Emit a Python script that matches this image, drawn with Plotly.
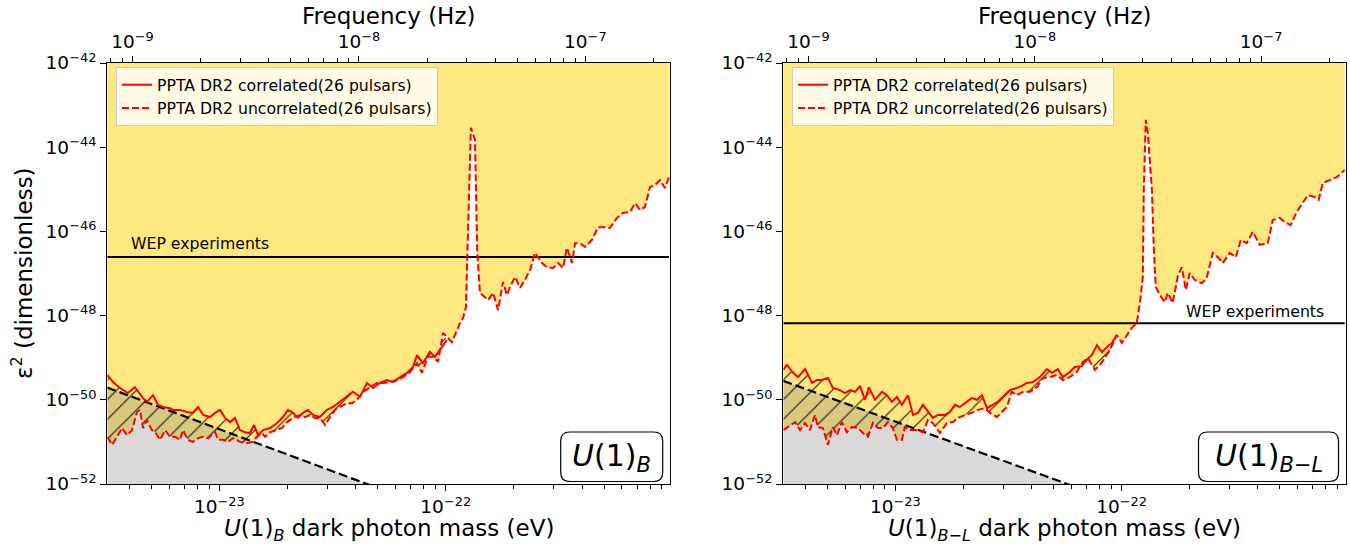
import numpy as np
import plotly.graph_objects as go

W, H = 1350, 546
HZ_PER_EV = 2.418e14  # frequency (Hz) per eV of mass

# ---------------- Left panel: U(1)_B ----------------
# correlated search (solid), low-mass part only
b_corr_logm = [-23.495, -23.470, -23.439, -23.404, -23.373, -23.342, -23.320, -23.293, -23.271, -23.249,
               -23.218, -23.205, -23.174, -23.143, -23.117, -23.094, -23.072, -23.041, -23.019, -22.997,
               -22.975, -22.953, -22.931, -22.909, -22.887, -22.865, -22.847, -22.829, -22.807, -22.776,
               -22.745, -22.719, -22.697, -22.675, -22.653, -22.631, -22.609, -22.586, -22.556, -22.525,
               -22.498, -22.467, -22.436, -22.410, -22.379, -22.348, -22.321, -22.291, -22.260, -22.233,
               -22.202, -22.171, -22.145, -22.127, -22.101, -22.070, -22.048, -22.026, -21.995]
b_corr_logeps = [-49.41, -49.58, -49.72, -49.84, -49.70, -49.93, -50.05, -49.89, -50.12, -50.17,
                 -50.20, -50.24, -50.24, -50.29, -50.31, -50.17, -50.36, -50.41, -50.31, -50.24,
                 -50.43, -50.53, -50.43, -50.72, -50.77, -50.79, -50.60, -50.84, -50.72, -50.67,
                 -50.55, -50.41, -50.24, -50.31, -50.43, -50.31, -50.24, -50.36, -50.41, -50.24,
                 -50.17, -50.05, -49.93, -49.81, -49.93, -49.60, -49.72, -49.60, -49.53, -49.58,
                 -49.46, -49.36, -49.22, -48.94, -49.13, -48.86, -48.98, -48.82, -48.58]
# uncorrelated search (dashed), low-mass part
b_unc_logm = [-23.495, -23.474, -23.452, -23.430, -23.408, -23.386, -23.364, -23.351, -23.337, -23.320,
              -23.298, -23.284, -23.262, -23.240, -23.218, -23.196, -23.174, -23.161, -23.139, -23.117,
              -23.094, -23.072, -23.050, -23.019, -23.006, -22.984, -22.962, -22.940, -22.909, -22.878,
              -22.856, -22.834, -22.812, -22.798, -22.776, -22.745, -22.723, -22.701, -22.675, -22.644,
              -22.622, -22.600, -22.578, -22.556, -22.533, -22.511, -22.489, -22.467, -22.436, -22.414,
              -22.392, -22.366, -22.335, -22.304, -22.277, -22.246, -22.215, -22.189, -22.158, -22.127,
              -22.105, -22.079, -22.056, -22.034, -22.012, -21.973, -21.937, -21.924, -21.911]
b_unc_logeps = [-50.88, -51.07, -50.88, -50.67, -50.84, -50.72, -50.29, -50.24, -50.67, -50.48,
                -50.72, -50.77, -50.95, -50.72, -50.88, -50.88, -50.95, -50.72, -50.95, -51.00,
                -50.91, -50.88, -50.91, -50.77, -50.95, -50.95, -51.00, -50.91, -51.00, -51.03,
                -51.00, -50.88, -50.79, -50.88, -50.77, -50.72, -50.67, -50.53, -50.43, -50.36,
                -50.41, -50.36, -50.43, -50.43, -50.60, -50.41, -50.24, -50.17, -50.08, -50.08,
                -50.00, -49.81, -49.70, -49.60, -49.60, -49.58, -49.53, -49.46, -49.34, -49.13,
                -49.36, -48.98, -48.98, -49.10, -48.41, -48.63, -48.18, -48.06, -47.80]
# uncorrelated search (dashed), high-mass part with the resonance spike
b_tail_logm = [-21.906, -21.897, -21.889, -21.871, -21.861, -21.849, -21.813, -21.791, -21.769, -21.747,
               -21.730, -21.716, -21.694, -21.672, -21.650, -21.628, -21.606, -21.575, -21.553, -21.526,
               -21.504, -21.482, -21.465, -21.442, -21.429, -21.407, -21.385, -21.354, -21.328, -21.297,
               -21.275, -21.244, -21.217, -21.186, -21.164, -21.142, -21.120, -21.098, -21.076, -21.054,
               -21.032, -21.014]
b_tail_logeps = [-46.68, -45.25, -43.54, -43.83, -46.51, -47.46, -47.63, -47.46, -47.87, -47.20,
                 -47.51, -47.32, -47.08, -47.34, -47.15, -46.92, -46.51, -46.75, -46.85, -46.87,
                 -46.75, -46.87, -46.39, -46.75, -46.28, -46.28, -46.37, -46.20, -45.90, -45.90,
                 -45.92, -45.68, -45.56, -45.54, -45.33, -45.49, -45.42, -44.95, -44.90, -44.78,
                 -44.97, -44.71]
b_wep = 2.45e-47
b_bound_logm = [-23.495, -22.098]
b_bound_logeps = [-49.71, -52.5]

# ---------------- Right panel: U(1)_{B-L} ----------------
bl_corr_logm = [-23.495, -23.479, -23.452, -23.430, -23.399, -23.368, -23.346, -23.324, -23.298, -23.276,
                -23.245, -23.223, -23.200, -23.178, -23.156, -23.134, -23.117, -23.090, -23.059, -23.037,
                -23.015, -22.993, -22.971, -22.944, -22.922, -22.900, -22.878, -22.856, -22.834, -22.812,
                -22.781, -22.759, -22.737, -22.715, -22.692, -22.662, -22.639, -22.617, -22.595, -22.569,
                -22.547, -22.525, -22.494, -22.463, -22.441, -22.419, -22.392, -22.361, -22.330, -22.308,
                -22.282, -22.260, -22.229, -22.207, -22.176, -22.154, -22.132, -22.109, -22.087, -22.065,
                -22.043, -22.021]
bl_corr_logeps = [-49.29, -49.17, -49.36, -49.46, -49.27, -49.60, -49.53, -49.53, -49.48, -49.72,
                  -49.77, -49.84, -49.77, -49.81, -49.67, -50.00, -49.70, -50.00, -49.81, -49.89,
                  -50.05, -49.93, -50.12, -49.89, -50.36, -50.31, -50.12, -50.29, -50.43, -50.36,
                  -50.36, -50.29, -50.12, -50.17, -50.08, -49.96, -50.00, -49.89, -50.20, -50.12,
                  -50.05, -49.93, -49.77, -49.72, -49.67, -49.60, -49.58, -49.46, -49.27, -49.36,
                  -49.27, -49.46, -49.34, -49.22, -49.20, -49.05, -48.94, -48.70, -48.87, -48.75,
                  -48.65, -48.46]
bl_unc_logm = [-23.495, -23.474, -23.443, -23.421, -23.399, -23.377, -23.355, -23.342, -23.320, -23.298,
               -23.276, -23.258, -23.236, -23.214, -23.192, -23.165, -23.143, -23.121, -23.099, -23.077,
               -23.055, -23.033, -23.011, -22.993, -22.971, -22.958, -22.935, -22.904, -22.878, -22.856,
               -22.834, -22.803, -22.772, -22.745, -22.723, -22.692, -22.662, -22.635, -22.604, -22.582,
               -22.551, -22.529, -22.507, -22.485, -22.463, -22.436, -22.405, -22.374, -22.348, -22.317,
               -22.286, -22.260, -22.229, -22.198, -22.171, -22.149, -22.118, -22.096, -22.074, -22.052,
               -22.021]
bl_unc_logeps = [-50.72, -50.65, -50.53, -50.72, -50.55, -50.72, -50.36, -50.65, -50.67, -51.07,
                 -50.65, -50.84, -50.53, -50.77, -50.65, -50.67, -50.79, -50.88, -50.55, -50.67,
                 -50.67, -50.53, -50.67, -50.95, -50.95, -50.65, -50.72, -50.72, -50.77, -50.48,
                 -50.55, -50.79, -50.55, -50.53, -50.43, -50.36, -50.31, -50.24, -50.20, -50.31,
                 -50.41, -50.29, -50.17, -49.81, -49.89, -49.81, -49.81, -49.70, -49.48, -49.46,
                 -49.41, -49.53, -49.46, -49.34, -49.10, -49.01, -49.29, -49.17, -49.01, -48.82,
                 -48.46]
bl_tail_logm = [-21.999, -21.977, -21.955, -21.933, -21.919, -21.906, -21.902, -21.893, -21.884, -21.866,
                -21.858, -21.849, -21.831, -21.809, -21.796, -21.774, -21.752, -21.734, -21.716, -21.699,
                -21.677, -21.646, -21.624, -21.597, -21.575, -21.553, -21.522, -21.495, -21.473, -21.447,
                -21.420, -21.389, -21.354, -21.332, -21.301, -21.279, -21.253, -21.226, -21.177, -21.147,
                -21.129, -21.111, -21.080, -21.049, -21.014]
bl_tail_logeps = [-48.65, -48.48, -48.29, -48.18, -47.70, -47.08, -45.02, -43.35, -43.66, -45.02,
                  -46.37, -47.32, -47.51, -47.68, -47.46, -47.70, -47.08, -46.85, -47.39, -46.99,
                  -47.15, -47.23, -47.11, -46.51, -46.61, -46.75, -46.51, -46.61, -46.20, -46.28,
                  -46.01, -46.32, -46.28, -45.73, -45.68, -45.78, -45.85, -45.54, -45.14, -45.18,
                  -45.25, -44.85, -44.78, -44.71, -44.54]
bl_wep = 6.6e-49
bl_bound_logm = [-23.495, -21.984]
bl_bound_logeps = [-49.55, -52.5]

# axis settings
mass_range_log = [-23.495, -21.0096]
eps_range_log = [-52, -42]
mass_ticks = [1e-23, 1e-22]
mass_ticktext = ["10<sup>−23</sup>", "10<sup>−22</sup>"]
freq_ticks = [1e-9, 1e-8, 1e-7]
freq_ticktext = ["10<sup>−9</sup>", "10<sup>−8</sup>", "10<sup>−7</sup>"]
eps_ticks = [1e-52, 1e-50, 1e-48, 1e-46, 1e-44, 1e-42]
eps_ticktext = ["10<sup>−52</sup>", "10<sup>−50</sup>", "10<sup>−48</sup>",
                "10<sup>−46</sup>", "10<sup>−44</sup>", "10<sup>−42</sup>"]

YELLOW = "#FFE880"
GRAY_OVER = "rgba(128,128,128,0.30)"
FONT = "DejaVu Sans"
TICK_SIZE = 18.5
TITLE_SIZE = 23
SMALL_SIZE = 15.7
LABEL_SIZE = 30

fig = go.Figure()


def p(arr):
    return (10.0 ** np.asarray(arr, dtype=float)).tolist()


def add_panel(xa, ya, xtop, corr_m, corr_e, unc_m, unc_e, tail_m, tail_e,
              wep, bound_m, bound_e, legend):
    cm, ce = p(corr_m), p(corr_e)
    um = p(list(unc_m) + list(tail_m))
    ue = p(list(unc_e) + list(tail_e))
    top = 10.0 ** eps_range_log[1]
    # excluded (yellow) region above the uncorrelated limit
    fig.add_trace(go.Scatter(x=um + [um[-1], um[0]], y=ue + [top, top], fill="toself",
                             fillcolor=YELLOW, mode="lines", line=dict(width=0),
                             xaxis=xa, yaxis=ya, showlegend=False, hoverinfo="skip"))
    # grey region below the dashed black bound
    bm, be = p(bound_m), p(bound_e)
    fig.add_trace(go.Scatter(x=[bm[0], bm[1], bm[0]], y=[be[0], be[1], be[1]], fill="toself",
                             fillcolor=GRAY_OVER, mode="lines", line=dict(width=0),
                             xaxis=xa, yaxis=ya, showlegend=False, hoverinfo="skip"))
    # hatch between the two curves (over the range of the correlated curve)
    n = sum(1 for v in unc_m if v <= corr_m[-1] + 1e-9)
    fig.add_trace(go.Scatter(x=p(unc_m[:n]), y=p(unc_e[:n]), mode="lines",
                             line=dict(width=0, color="rgba(0,0,0,0)"),
                             xaxis=xa, yaxis=ya, showlegend=False, hoverinfo="skip"))
    fig.add_trace(go.Scatter(x=cm, y=ce, mode="lines", line=dict(width=0, color="rgba(0,0,0,0)"),
                             fill="tonexty", fillcolor="rgba(0,0,0,0)",
                             fillpattern=dict(shape="/", fgcolor="rgba(0,0,0,0.9)",
                                              bgcolor="rgba(0,0,0,0)", size=14, solidity=0.08,
                                              fillmode="replace"),
                             xaxis=xa, yaxis=ya, showlegend=False, hoverinfo="skip"))
    # WEP horizontal line
    fig.add_trace(go.Scatter(x=[um[0], um[-1]], y=[wep, wep], mode="lines",
                             line=dict(color="black", width=2), xaxis=xa, yaxis=ya,
                             showlegend=False, hoverinfo="skip"))
    # black dashed bound
    fig.add_trace(go.Scatter(x=bm, y=be, mode="lines",
                             line=dict(color="black", width=2.2, dash="9px,4px"),
                             xaxis=xa, yaxis=ya, showlegend=False, hoverinfo="skip"))
    # curves
    fig.add_trace(go.Scatter(x=cm, y=ce, mode="lines", name="PPTA DR2 correlated(26 pulsars)",
                             line=dict(color="red", width=2), xaxis=xa, yaxis=ya, legend=legend))
    fig.add_trace(go.Scatter(x=um, y=ue, mode="lines", name="PPTA DR2 uncorrelated(26 pulsars)",
                             line=dict(color="red", width=2, dash="7px,3px"), xaxis=xa, yaxis=ya,
                             legend=legend))
    # invisible trace carrying the top frequency axis
    fig.add_trace(go.Scatter(x=[m * HZ_PER_EV for m in um], y=ue, mode="lines", opacity=0,
                             line=dict(width=0), xaxis=xtop, yaxis=ya, showlegend=False,
                             hoverinfo="skip"))


add_panel("x", "y", "x2", b_corr_logm, b_corr_logeps, b_unc_logm, b_unc_logeps,
          b_tail_logm, b_tail_logeps, b_wep, b_bound_logm, b_bound_logeps, "legend")
add_panel("x3", "y2", "x4", bl_corr_logm, bl_corr_logeps, bl_unc_logm, bl_unc_logeps,
          bl_tail_logm, bl_tail_logeps, bl_wep, bl_bound_logm, bl_bound_logeps, "legend2")


def minor_vals(lo, hi):
    vals = []
    for d in range(int(np.floor(lo)) - 1, int(np.ceil(hi)) + 1):
        for k in range(2, 10):
            v = k * 10.0 ** d
            if lo <= np.log10(v) <= hi:
                vals.append(v)
    return vals


tickfont = dict(family=FONT, size=TICK_SIZE, color="black")
freq_range_log = [mass_range_log[0] + np.log10(HZ_PER_EV), mass_range_log[1] + np.log10(HZ_PER_EV)]


def xbottom(domain, anchor):
    return dict(type="log", range=mass_range_log, domain=domain, anchor=anchor, automargin=False,
                showline=True, linecolor="black", linewidth=1.3, mirror=False,
                ticks="outside", ticklen=6, tickwidth=1.2, tickcolor="black",
                tickmode="array", tickvals=mass_ticks, ticktext=mass_ticktext,
                minor=dict(ticks="outside", ticklen=3.5, tickwidth=1, tickcolor="black",
                           tickmode="array", tickvals=minor_vals(*mass_range_log)),
                showgrid=False, zeroline=False, tickfont=tickfont)


def xtop(overlay, anchor):
    return dict(type="log", range=freq_range_log, overlaying=overlay, anchor=anchor, side="top",
                automargin=False, showline=True, linecolor="black", linewidth=1.3,
                ticks="outside", ticklen=6, tickwidth=1.2, tickcolor="black",
                tickmode="array", tickvals=freq_ticks, ticktext=freq_ticktext,
                minor=dict(ticks="outside", ticklen=3.5, tickwidth=1, tickcolor="black",
                           tickmode="array", tickvals=minor_vals(*freq_range_log)),
                showgrid=False, zeroline=False, tickfont=tickfont)


def yaxis(anchor):
    return dict(type="log", range=eps_range_log, domain=[1 - 484 / H, 1 - 63 / H], anchor=anchor,
                automargin=False, showline=True, linecolor="black", linewidth=1.3, mirror=True,
                ticks="outside", ticklen=6, tickwidth=1.2, tickcolor="black",
                tickmode="array", tickvals=eps_ticks, ticktext=eps_ticktext,
                showgrid=False, zeroline=False, tickfont=tickfont)


left_dom = [107.3 / W, 670 / W]
right_dom = [783.3 / W, 1345.7 / W]

legend_style = dict(bgcolor="rgba(255,255,255,0.8)", bordercolor="#cccccc", borderwidth=1,
                    font=dict(family=FONT, size=SMALL_SIZE, color="black"), xanchor="left",
                    yanchor="top", tracegroupgap=0, traceorder="normal")

fig.update_layout(
    width=W, height=H, autosize=False,
    margin=dict(l=0, r=0, t=0, b=0, pad=0, autoexpand=False),
    paper_bgcolor="white", plot_bgcolor="white",
    font=dict(family=FONT, color="black"),
    xaxis=xbottom(left_dom, "y"),
    xaxis2=xtop("x", "y"),
    xaxis3=xbottom(right_dom, "y2"),
    xaxis4=xtop("x3", "y2"),
    yaxis=yaxis("x"),
    yaxis2=yaxis("x3"),
    legend=dict(x=116 / W, y=1 - 67 / H, **legend_style),
    legend2=dict(x=792 / W, y=1 - 67 / H, **legend_style),
    showlegend=True,
)


def X(px):
    return px / W


def Y(py):
    return 1 - py / H


def rrect(x0, y0, x1, y1, r):
    return (f"M {X(x0 + r)},{Y(y0)} L {X(x1 - r)},{Y(y0)} Q {X(x1)},{Y(y0)} {X(x1)},{Y(y0 + r)} "
            f"L {X(x1)},{Y(y1 - r)} Q {X(x1)},{Y(y1)} {X(x1 - r)},{Y(y1)} "
            f"L {X(x0 + r)},{Y(y1)} Q {X(x0)},{Y(y1)} {X(x0)},{Y(y1 - r)} "
            f"L {X(x0)},{Y(y0 + r)} Q {X(x0)},{Y(y0)} {X(x0 + r)},{Y(y0)} Z")


for (bx0, bx1) in [(560.7, 662.7), (1198.5, 1338.5)]:
    fig.add_shape(type="path", xref="paper", yref="paper", path=rrect(bx0, 432, bx1, 481.5, 9),
                  line=dict(color="black", width=1.2), fillcolor="white", layer="above")

ann = []
title_font = dict(family=FONT, size=TITLE_SIZE, color="black")
# axis titles
ann.append(dict(x=X((107.3 + 670) / 2), y=Y(530),
                text="<i>U</i>(1)<sub><i>B</i></sub> dark photon mass (eV)", font=title_font))
ann.append(dict(x=X((783.3 + 1345.7) / 2), y=Y(530),
                text="<i>U</i>(1)<sub><i>B</i>−<i>L</i></sub> dark photon mass (eV)", font=title_font))
ann.append(dict(x=X((107.3 + 670) / 2), y=Y(16), text="Frequency (Hz)", font=title_font))
ann.append(dict(x=X((783.3 + 1345.7) / 2), y=Y(16), text="Frequency (Hz)", font=title_font))
ann.append(dict(x=X(22), y=Y(273), text="ε<sup>2</sup> (dimensionless)", textangle=-90,
                font=title_font))
# WEP labels
ann.append(dict(x=X(129), y=Y(244), text="WEP experiments", xanchor="left",
                font=dict(family=FONT, size=SMALL_SIZE, color="black")))
ann.append(dict(x=X(1326), y=Y(311), text="WEP experiments", xanchor="right",
                font=dict(family=FONT, size=SMALL_SIZE, color="black")))
# model labels
ann.append(dict(x=X(611.7), y=Y(457), text="<i>U</i>(1)<sub><i>B</i></sub>",
                font=dict(family=FONT, size=LABEL_SIZE, color="black")))
ann.append(dict(x=X(1268.5), y=Y(457), text="<i>U</i>(1)<sub><i>B</i>−<i>L</i></sub>",
                font=dict(family=FONT, size=LABEL_SIZE, color="black")))

for a in ann:
    a.setdefault("xanchor", "center")
    a.update(xref="paper", yref="paper", showarrow=False, yanchor="middle")
    fig.add_annotation(**a)

# remove the browser's default page margin so the figure sits at the window origin
fig.write_html("out.html", config={"displayModeBar": False},
               post_script="document.body.style.margin='0px';document.body.style.padding='0px';")
